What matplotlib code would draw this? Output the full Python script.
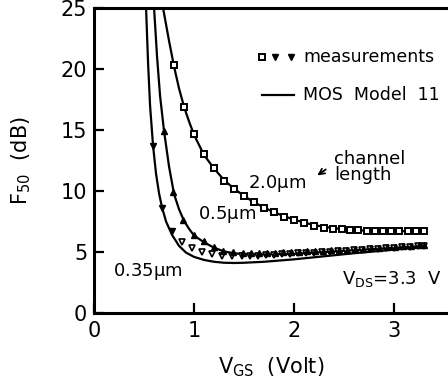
import matplotlib
matplotlib.use("Agg")
import matplotlib.pyplot as plt

plt.rcParams['font.family'] = ['DejaVu Sans']
plt.rcParams['mathtext.default'] = 'regular'

# measured points
v_sq = [0.80, 0.90, 1.00, 1.10, 1.20, 1.30, 1.40, 1.50, 1.60, 1.70, 1.80, 1.90, 2.00, 2.10,
        2.20, 2.30, 2.39, 2.48, 2.56, 2.64, 2.73, 2.81, 2.89, 2.97, 3.05, 3.14, 3.22, 3.30]
f_sq = [20.3, 16.9, 14.7, 13.0, 11.9, 10.85, 10.2, 9.6, 9.07, 8.6, 8.25, 7.9, 7.65, 7.4,
        7.16, 7.0, 6.9, 6.85, 6.8, 6.78, 6.75, 6.72, 6.7, 6.7, 6.7, 6.7, 6.72, 6.75]

v_up = [0.70, 0.79, 0.89, 1.00, 1.10, 1.20, 1.29, 1.39, 1.49, 1.57, 1.65, 1.73, 1.81, 1.89,
        1.97, 2.05, 2.13, 2.21, 2.29, 2.37, 2.45, 2.53, 2.61, 2.69, 2.77, 2.85, 2.93, 3.01,
        3.09, 3.17, 3.25, 3.30]
f_up = [14.95, 9.9, 7.65, 6.4, 5.93, 5.4, 5.1, 5.0, 4.95, 4.92, 4.92, 4.93, 4.95, 4.97,
        5.0, 5.02, 5.05, 5.08, 5.1, 5.13, 5.17, 5.2, 5.24, 5.28, 5.32, 5.36, 5.4, 5.44,
        5.48, 5.52, 5.55, 5.57]

v_dn_f = [0.59, 0.68, 0.78]
f_dn_f = [13.7, 8.65, 6.75]
v_dn_o = [0.88, 0.98, 1.08, 1.18, 1.28, 1.38, 1.48, 1.56, 1.64, 1.72, 1.80, 1.88, 1.96,
          2.04, 2.12, 2.20, 2.28, 2.36, 2.44, 2.52, 2.60, 2.68, 2.76, 2.84, 2.92, 3.00,
          3.08, 3.16, 3.24, 3.30]
f_dn_o = [5.8, 5.33, 4.97, 4.8, 4.7, 4.65, 4.66, 4.68, 4.7, 4.73, 4.76, 4.8, 4.84,
          4.88, 4.92, 4.96, 5.0, 5.04, 5.08, 5.12, 5.16, 5.2, 5.24, 5.28, 5.32, 5.36,
          5.4, 5.44, 5.47, 5.5]

# model curves
v_m20 = [0.69, 0.75, 0.80, 0.85, 0.90, 0.95, 1.0, 1.1, 1.2, 1.3, 1.4, 1.5, 1.6, 1.8, 2.0,
         2.2, 2.4, 2.6, 2.8, 3.0, 3.3]
f_m20 = [25.0, 22.3, 20.2, 18.4, 16.9, 15.7, 14.6, 12.95, 11.85, 10.9, 10.2, 9.6, 9.07,
         8.25, 7.65, 7.2, 6.95, 6.8, 6.72, 6.7, 6.75]
v_m05 = [0.60, 0.63, 0.66, 0.70, 0.75, 0.80, 0.85, 0.90, 0.95, 1.0, 1.1, 1.2, 1.3, 1.4,
         1.5, 1.7, 2.0, 2.3, 2.6, 3.0, 3.3]
f_m05 = [25.0, 21.0, 17.8, 14.9, 12.0, 9.75, 8.5, 7.55, 6.9, 6.35, 5.8, 5.35, 5.05, 4.9,
         4.82, 4.8, 4.85, 5.0, 5.15, 5.35, 5.5]
v_m035 = [0.52, 0.54, 0.56, 0.59, 0.62, 0.65, 0.68, 0.72, 0.78, 0.85, 0.92, 1.0, 1.1, 1.2,
          1.3, 1.4, 1.5, 1.7, 2.0, 2.3, 2.6, 3.0, 3.3]
f_m035 = [25.0, 20.5, 17.0, 13.7, 11.4, 9.8, 8.65, 7.5, 6.4, 5.5, 4.95, 4.6, 4.35, 4.2,
          4.12, 4.1, 4.12, 4.2, 4.4, 4.65, 4.9, 5.2, 5.4]

x_ticks = [0, 1, 2, 3]
y_ticks = [0, 5, 10, 15, 20, 25]

fig = plt.figure(figsize=(4.48, 3.85), dpi=100)
ax = fig.add_axes([0.21, 0.187, 0.79, 0.792])
ax.set_xlim(0, 3.54)
ax.set_ylim(0, 25)

lw = 1.6
for v, f in [(v_m20, f_m20), (v_m05, f_m05), (v_m035, f_m035)]:
    ax.plot(v, f, color='black', lw=lw, zorder=2)

ms = 4.4
ax.plot(v_sq, f_sq, ls='none', marker='s', ms=ms, mfc='white', mec='black', mew=1.4, zorder=3)
ax.plot(v_dn_o, f_dn_o, ls='none', marker='v', ms=ms + 0.6, mfc='white', mec='black', mew=1.2, zorder=3)
ax.plot(v_up, f_up, ls='none', marker='^', ms=ms + 0.6, mfc='black', mec='black', mew=1.0, zorder=4)
ax.plot(v_dn_f, f_dn_f, ls='none', marker='v', ms=ms + 0.6, mfc='black', mec='black', mew=1.0, zorder=4)

for s in ['left', 'bottom', 'top']:
    ax.spines[s].set_linewidth(2.2)
ax.spines['right'].set_visible(False)

ax.set_xticks(x_ticks)
ax.set_yticks(y_ticks)
ax.tick_params(direction='in', length=7, width=1.6, labelsize=15, pad=5)
ax.tick_params(axis='x', pad=6)

ax.set_xlabel(r'V$_{GS}$  (Volt)', fontsize=15, labelpad=10)
ax.set_ylabel(r'F$_{50}$  (dB)', fontsize=15, labelpad=20)

# legend (drawn manually)
t = ax.transAxes
ax.plot([0.474], [0.838], transform=t, marker='s', ms=4.4, mfc='white', mec='black', mew=1.4, ls='none', clip_on=False)
ax.plot([0.511, 0.556], [0.838, 0.838], transform=t, marker='v', ms=5.0, mfc='black', mec='black', ls='none', clip_on=False)
ax.text(0.59, 0.838, 'measurements', transform=t, fontsize=12.5, va='center', ha='left')
ax.plot([0.474, 0.565], [0.716, 0.716], transform=t, color='black', lw=1.6, clip_on=False)
ax.text(0.59, 0.716, 'MOS  Model  11', transform=t, fontsize=12.5, va='center', ha='left')

# annotations
ax.text(1.54, 10.6, r'2.0$\mu$m', fontsize=13, va='center', ha='left')
ax.text(2.40, 12.0, 'channel\nlength', fontsize=13, va='center', ha='left', linespacing=0.85)
ax.annotate('', xy=(2.21, 11.15), xytext=(2.34, 11.9),
            arrowprops=dict(arrowstyle='->', lw=1.3, color='black'))
ax.text(1.04, 8.1, r'0.5$\mu$m', fontsize=13, va='center', ha='left')
ax.text(0.19, 3.4, r'0.35$\mu$m', fontsize=13, va='center', ha='left')
ax.text(2.48, 2.8, r'V$_{DS}$=3.3  V', fontsize=13, va='center', ha='left')

fig.savefig('out.png', dpi=100)
